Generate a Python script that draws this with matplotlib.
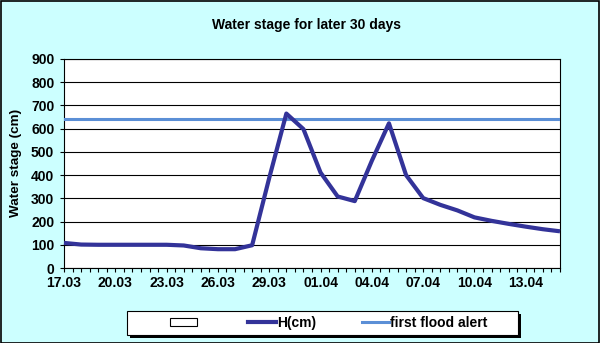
import matplotlib
matplotlib.use("Agg")
import matplotlib.pyplot as plt
from matplotlib.patches import Patch, Rectangle
from matplotlib.lines import Line2D
from matplotlib.ticker import MultipleLocator, FixedLocator

# ---- data ----
dates = ['17.03', '18.03', '19.03', '20.03', '21.03', '22.03', '23.03', '24.03',
         '25.03', '26.03', '27.03', '28.03', '29.03', '30.03', '31.03', '01.04',
         '02.04', '03.04', '04.04', '05.04', '06.04', '07.04', '08.04', '09.04',
         '10.04', '11.04', '12.04', '13.04', '14.04', '15.04']
h_cm = [108, 101, 100, 100, 100, 100, 100, 97, 85, 81, 81, 98, 388, 665, 598,
        411, 308, 288, 462, 623, 400, 301, 272, 248, 218, 203, 190, 178, 167, 158]
flood_alert = 640
y_ticks = [0, 100, 200, 300, 400, 500, 600, 700, 800, 900]
x_label_every = 3

FONT = ['Liberation Sans', 'DejaVu Sans']
FS = 10
W, H = 600, 343

fig = plt.figure(figsize=(W / 100, H / 100), dpi=100, facecolor='#CCFFFF')
ax = fig.add_axes([64 / W, 1 - 268 / H, (560 - 64) / W, (268 - 59) / H])
ax.set_facecolor('white')

x = list(range(len(dates)))
ax.plot(x, h_cm, color='#333399', lw=3.0, solid_joinstyle='round',
        solid_capstyle='butt', zorder=4, clip_on=False)
ax.axhline(flood_alert, color='#5B8FD6', lw=2.2, zorder=3)

ax.set_xlim(0, len(dates) - 1)
ax.set_ylim(y_ticks[0], y_ticks[-1])
ax.set_yticks(y_ticks)
ax.yaxis.grid(True, color='black', lw=0.8, zorder=1)
ax.set_axisbelow(True)

major = x[::x_label_every]
ax.xaxis.set_major_locator(FixedLocator(major))
ax.set_xticklabels(dates[::x_label_every])
ax.xaxis.set_minor_locator(MultipleLocator(0.5))

for lab in ax.get_xticklabels() + ax.get_yticklabels():
    lab.set_family(FONT)
    lab.set_fontweight('bold')
    lab.set_fontsize(FS)
ax.tick_params(axis='both', which='both', direction='out', length=3,
               width=0.8, color='black')
ax.tick_params(axis='y', pad=4)
ax.tick_params(axis='x', pad=3)
for s in ax.spines.values():
    s.set_color('black')
    s.set_linewidth(0.8)

fig.text(307 / W, 1 - 25 / H, 'Water stage for later 30 days', family=FONT,
         fontweight='bold', fontsize=FS, ha='center', va='center')
fig.text(16 / W, 1 - 163 / H, 'Water stage (cm)', family=FONT,
         fontweight='bold', fontsize=9.7, ha='center', va='center', rotation=90)

# legend frame with shadow
fig.patches.append(Rectangle((130 / W, 1 - 338 / H), (518 - 127) / W, 24 / H,
                             transform=fig.transFigure, facecolor='black',
                             edgecolor='none', zorder=1))
fig.patches.append(Rectangle((127 / W, 1 - 335 / H), (518 - 127) / W, 24 / H,
                             transform=fig.transFigure, facecolor='white',
                             edgecolor='black', lw=0.8, zorder=2))
handles = [Patch(facecolor='white', edgecolor='black', lw=0.8),
           Line2D([], [], color='#333399', lw=3.0),
           Line2D([], [], color='#5B8FD6', lw=2.2)]
labels = [' ', 'H(cm)', 'first flood alert']
leg = fig.legend(handles, labels, ncol=3, frameon=False, loc='center',
                 bbox_to_anchor=(329 / W, 1 - 323 / H),
                 prop={'family': FONT, 'weight': 'bold', 'size': FS},
                 handlelength=1.95, handleheight=0.55, handletextpad=0.1,
                 columnspacing=3.3, borderpad=0, borderaxespad=0)
leg.set_zorder(5)

# figure border
fig.patches.append(Rectangle((0.5 / W, 0.5 / H), (W - 1.5) / W, (H - 1.5) / H,
                             transform=fig.transFigure, facecolor='none',
                             edgecolor='black', lw=1.2, zorder=10))

fig.savefig('out.png', dpi=100, facecolor=fig.get_facecolor())
